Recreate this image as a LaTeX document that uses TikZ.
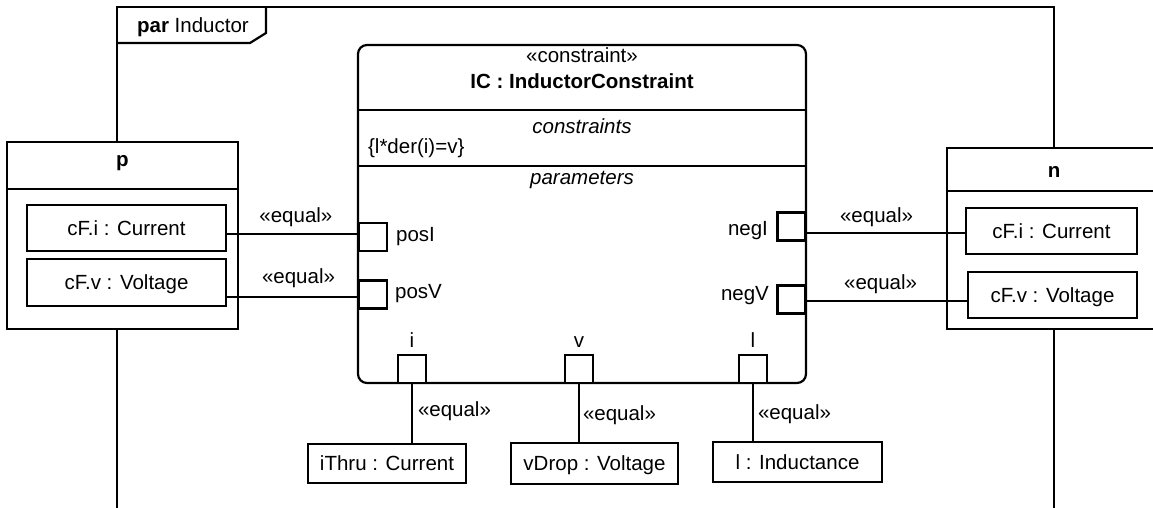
\documentclass[tikz,border=0pt]{standalone}
\usepackage{fontspec}
\setmainfont{Liberation Sans}
\usetikzlibrary{positioning, calc}

\begin{document}
\begin{tikzpicture}[x=1pt, y=-1pt, line width=2.2pt,
  font=\fontsize{20.5}{24}\selectfont,
  txt/.style={inner sep=0pt, text height=14.5pt, text depth=0pt},
  box/.style={txt, draw, fill=white},
  port/.style={draw, fill=white, inner sep=0pt, minimum size=28pt},
  conn/.style={line width=2pt}]

  \useasboundingbox (0,0) rectangle (1153,508);

  % frame
  \draw (117,520) -- (117,7) -- (1054,7) -- (1054,520);
  \draw (117,43) -- (250,43) -- (266,33) -- (266,7);
  \node[txt, anchor=west] (frm) at (136,25) {\textbf{par} Inductor};

  % p
  \node[box, minimum width=231pt, minimum height=187pt] (p) at (122.5,235.5) {};
  \draw (p.west |- 0,189) -- (p.east |- 0,189);
  \node[txt] (pname) at (122.5,159) {\bfseries p};
  \node[box, minimum width=199pt, minimum height=46pt] (pci) at (126.5,228) {cF.i : Current};
  \node[box, minimum width=199pt, minimum height=47pt] (pcv) at (126.5,282.5) {cF.v : Voltage};

  % n
  \node[box, minimum width=214pt, minimum height=181pt] (n) at (1054,238.5) {};
  \draw (n.west |- 0,191) -- (n.east |- 0,191);
  \node[txt] (nname) at (1054,170) {\bfseries n};
  \node[box, minimum width=171pt, minimum height=46pt] (nci) at (1051.5,231) {cF.i : Current};
  \node[box, minimum width=169pt, minimum height=46pt] (ncv) at (1052.5,295) {cF.v : Voltage};

  % constraint block
  \node[box, rounded corners=9pt, minimum width=448pt, minimum height=338pt] (IC) at (582,214) {};
  \node[txt] (icst) at (582,55) {«constraint»};
  \node[txt] (icnm) at (582,81) {\bfseries IC : InductorConstraint};
  \draw (IC.west |- 0,110) -- (IC.east |- 0,110);
  \node[txt] (cstt) at (582,126) {\itshape constraints};
  \node[txt, anchor=west] (expr) at (367,146) {\{l*der(i)=v\}};
  \draw (IC.west |- 0,166) -- (IC.east |- 0,166);
  \node[txt] (prmt) at (582,177) {\itshape parameters};

  % bottom parts
  \node[box, minimum width=158pt, minimum height=39pt] (ithru) at (387,463.5) {iThru : Current};
  \node[box, minimum width=167pt, minimum height=41pt] (vdrop) at (594.5,463.5) {vDrop : Voltage};
  \node[box, minimum width=169pt, minimum height=40pt] (lind) at (797.5,462) {l : Inductance};

  % connectors
  \draw[conn] (pci.east |- 0,234) -- (IC.west |- 0,234)
    node[txt, pos=0.53, above=11pt] {«equal»};
  \draw[conn] (pcv.east |- 0,297) -- (IC.west |- 0,297)
    node[txt, pos=0.55, above=13pt] {«equal»};
  \draw[conn] (IC.east |- 0,233) -- (nci.west |- 0,233)
    node[txt, pos=0.44, above=10pt] {«equal»};
  \draw[conn] (IC.east |- 0,301) -- (ncv.west |- 0,301)
    node[txt, pos=0.46, above=11pt] {«equal»};

  % ports
  \node[port] (posI) at (373,237) {};
  \node[port] (posV) at (373,294.5) {};
  \node[port] (negI) at (791.5,226.5) {};
  \node[port] (negV) at (791.5,299.5) {};
  \node[port] (pi) at (412,369) {};
  \node[port] (pv) at (579,369) {};
  \node[port] (pl) at (753,369) {};

  \node[txt, anchor=west] (tposI) at (395,234.5) {posI};
  \node[txt, anchor=west] (tposV) at (394,291) {posV};
  \node[txt, anchor=east] (tnegI) at (769,228.5) {negI};
  \node[txt, anchor=east] (tnegV) at (770,293.5) {negV};
  \node[txt, above=5pt of pi] (ti) {i};
  \node[txt, above=5pt of pv] (tv) {v};
  \node[txt, above=5pt of pl] (tl) {l};

  \draw[conn] (pi.south) -- (ithru.north -| pi.south)
    node[txt, midway, right=5pt, yshift=4pt] {«equal»};
  \draw[conn] (pv.south) -- (vdrop.north -| pv.south)
    node[txt, midway, right=3pt] {«equal»};
  \draw[conn] (pl.south) -- (lind.north -| pl.south)
    node[txt, midway, right=4pt] {«equal»};
\end{tikzpicture}
\end{document}
